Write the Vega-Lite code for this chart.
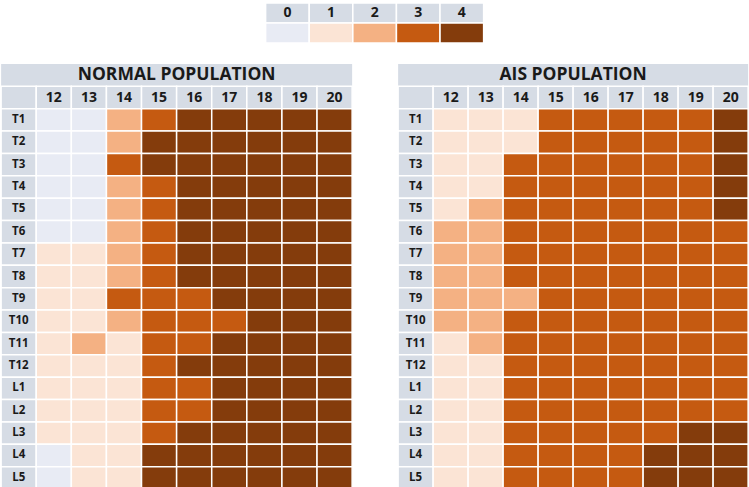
{
 "$schema": "https://vega.github.io/schema/vega-lite/v6.json",
 "padding": {"left": 0, "top": 2, "right": 0, "bottom": 0},
 "background": "white",
 "config": {"view": {"stroke": null}, "text": {"font": "Open Sans", "fontWeight": "bold", "color": "#1a1a1a"}},
 "datasets": {
  "cols": [{"c":"lab"},{"c":"12"},{"c":"13"},{"c":"14"},{"c":"15"},{"c":"16"},{"c":"17"},{"c":"18"},{"c":"19"},{"c":"20"}],
  "rows": [{"r":"T1"},{"r":"T2"},{"r":"T3"},{"r":"T4"},{"r":"T5"},{"r":"T6"},{"r":"T7"},{"r":"T8"},{"r":"T9"},{"r":"T10"},{"r":"T11"},{"r":"T12"},{"r":"L1"},{"r":"L2"},{"r":"L3"},{"r":"L4"},{"r":"L5"}],
  "legend": [{"k":0},{"k":1},{"k":2},{"k":3},{"k":4}],
  "normal": [
   {"r":"T1","c":"12","v":0},{"r":"T1","c":"13","v":0},{"r":"T1","c":"14","v":2},{"r":"T1","c":"15","v":3},{"r":"T1","c":"16","v":4},{"r":"T1","c":"17","v":4},{"r":"T1","c":"18","v":4},{"r":"T1","c":"19","v":4},{"r":"T1","c":"20","v":4},
   {"r":"T2","c":"12","v":0},{"r":"T2","c":"13","v":0},{"r":"T2","c":"14","v":2},{"r":"T2","c":"15","v":4},{"r":"T2","c":"16","v":4},{"r":"T2","c":"17","v":4},{"r":"T2","c":"18","v":4},{"r":"T2","c":"19","v":4},{"r":"T2","c":"20","v":4},
   {"r":"T3","c":"12","v":0},{"r":"T3","c":"13","v":0},{"r":"T3","c":"14","v":3},{"r":"T3","c":"15","v":4},{"r":"T3","c":"16","v":4},{"r":"T3","c":"17","v":4},{"r":"T3","c":"18","v":4},{"r":"T3","c":"19","v":4},{"r":"T3","c":"20","v":4},
   {"r":"T4","c":"12","v":0},{"r":"T4","c":"13","v":0},{"r":"T4","c":"14","v":2},{"r":"T4","c":"15","v":3},{"r":"T4","c":"16","v":4},{"r":"T4","c":"17","v":4},{"r":"T4","c":"18","v":4},{"r":"T4","c":"19","v":4},{"r":"T4","c":"20","v":4},
   {"r":"T5","c":"12","v":0},{"r":"T5","c":"13","v":0},{"r":"T5","c":"14","v":2},{"r":"T5","c":"15","v":3},{"r":"T5","c":"16","v":4},{"r":"T5","c":"17","v":4},{"r":"T5","c":"18","v":4},{"r":"T5","c":"19","v":4},{"r":"T5","c":"20","v":4},
   {"r":"T6","c":"12","v":0},{"r":"T6","c":"13","v":0},{"r":"T6","c":"14","v":2},{"r":"T6","c":"15","v":3},{"r":"T6","c":"16","v":4},{"r":"T6","c":"17","v":4},{"r":"T6","c":"18","v":4},{"r":"T6","c":"19","v":4},{"r":"T6","c":"20","v":4},
   {"r":"T7","c":"12","v":1},{"r":"T7","c":"13","v":1},{"r":"T7","c":"14","v":2},{"r":"T7","c":"15","v":3},{"r":"T7","c":"16","v":4},{"r":"T7","c":"17","v":4},{"r":"T7","c":"18","v":4},{"r":"T7","c":"19","v":4},{"r":"T7","c":"20","v":4},
   {"r":"T8","c":"12","v":1},{"r":"T8","c":"13","v":1},{"r":"T8","c":"14","v":2},{"r":"T8","c":"15","v":3},{"r":"T8","c":"16","v":4},{"r":"T8","c":"17","v":4},{"r":"T8","c":"18","v":4},{"r":"T8","c":"19","v":4},{"r":"T8","c":"20","v":4},
   {"r":"T9","c":"12","v":1},{"r":"T9","c":"13","v":1},{"r":"T9","c":"14","v":3},{"r":"T9","c":"15","v":3},{"r":"T9","c":"16","v":3},{"r":"T9","c":"17","v":4},{"r":"T9","c":"18","v":4},{"r":"T9","c":"19","v":4},{"r":"T9","c":"20","v":4},
   {"r":"T10","c":"12","v":1},{"r":"T10","c":"13","v":1},{"r":"T10","c":"14","v":2},{"r":"T10","c":"15","v":3},{"r":"T10","c":"16","v":3},{"r":"T10","c":"17","v":3},{"r":"T10","c":"18","v":4},{"r":"T10","c":"19","v":4},{"r":"T10","c":"20","v":4},
   {"r":"T11","c":"12","v":1},{"r":"T11","c":"13","v":2},{"r":"T11","c":"14","v":1},{"r":"T11","c":"15","v":3},{"r":"T11","c":"16","v":3},{"r":"T11","c":"17","v":4},{"r":"T11","c":"18","v":4},{"r":"T11","c":"19","v":4},{"r":"T11","c":"20","v":4},
   {"r":"T12","c":"12","v":1},{"r":"T12","c":"13","v":1},{"r":"T12","c":"14","v":1},{"r":"T12","c":"15","v":3},{"r":"T12","c":"16","v":4},{"r":"T12","c":"17","v":4},{"r":"T12","c":"18","v":4},{"r":"T12","c":"19","v":4},{"r":"T12","c":"20","v":4},
   {"r":"L1","c":"12","v":1},{"r":"L1","c":"13","v":1},{"r":"L1","c":"14","v":1},{"r":"L1","c":"15","v":3},{"r":"L1","c":"16","v":3},{"r":"L1","c":"17","v":4},{"r":"L1","c":"18","v":4},{"r":"L1","c":"19","v":4},{"r":"L1","c":"20","v":4},
   {"r":"L2","c":"12","v":1},{"r":"L2","c":"13","v":1},{"r":"L2","c":"14","v":1},{"r":"L2","c":"15","v":3},{"r":"L2","c":"16","v":3},{"r":"L2","c":"17","v":4},{"r":"L2","c":"18","v":4},{"r":"L2","c":"19","v":4},{"r":"L2","c":"20","v":4},
   {"r":"L3","c":"12","v":1},{"r":"L3","c":"13","v":1},{"r":"L3","c":"14","v":1},{"r":"L3","c":"15","v":3},{"r":"L3","c":"16","v":4},{"r":"L3","c":"17","v":4},{"r":"L3","c":"18","v":4},{"r":"L3","c":"19","v":4},{"r":"L3","c":"20","v":4},
   {"r":"L4","c":"12","v":0},{"r":"L4","c":"13","v":1},{"r":"L4","c":"14","v":1},{"r":"L4","c":"15","v":4},{"r":"L4","c":"16","v":4},{"r":"L4","c":"17","v":4},{"r":"L4","c":"18","v":4},{"r":"L4","c":"19","v":4},{"r":"L4","c":"20","v":4},
   {"r":"L5","c":"12","v":0},{"r":"L5","c":"13","v":1},{"r":"L5","c":"14","v":1},{"r":"L5","c":"15","v":4},{"r":"L5","c":"16","v":4},{"r":"L5","c":"17","v":4},{"r":"L5","c":"18","v":4},{"r":"L5","c":"19","v":4},{"r":"L5","c":"20","v":4}
  ],
  "ais": [
   {"r":"T1","c":"12","v":1},{"r":"T1","c":"13","v":1},{"r":"T1","c":"14","v":1},{"r":"T1","c":"15","v":3},{"r":"T1","c":"16","v":3},{"r":"T1","c":"17","v":3},{"r":"T1","c":"18","v":3},{"r":"T1","c":"19","v":3},{"r":"T1","c":"20","v":4},
   {"r":"T2","c":"12","v":1},{"r":"T2","c":"13","v":1},{"r":"T2","c":"14","v":1},{"r":"T2","c":"15","v":3},{"r":"T2","c":"16","v":3},{"r":"T2","c":"17","v":3},{"r":"T2","c":"18","v":3},{"r":"T2","c":"19","v":3},{"r":"T2","c":"20","v":4},
   {"r":"T3","c":"12","v":1},{"r":"T3","c":"13","v":1},{"r":"T3","c":"14","v":3},{"r":"T3","c":"15","v":3},{"r":"T3","c":"16","v":3},{"r":"T3","c":"17","v":3},{"r":"T3","c":"18","v":3},{"r":"T3","c":"19","v":3},{"r":"T3","c":"20","v":4},
   {"r":"T4","c":"12","v":1},{"r":"T4","c":"13","v":1},{"r":"T4","c":"14","v":3},{"r":"T4","c":"15","v":3},{"r":"T4","c":"16","v":3},{"r":"T4","c":"17","v":3},{"r":"T4","c":"18","v":3},{"r":"T4","c":"19","v":3},{"r":"T4","c":"20","v":4},
   {"r":"T5","c":"12","v":1},{"r":"T5","c":"13","v":2},{"r":"T5","c":"14","v":3},{"r":"T5","c":"15","v":3},{"r":"T5","c":"16","v":3},{"r":"T5","c":"17","v":3},{"r":"T5","c":"18","v":3},{"r":"T5","c":"19","v":3},{"r":"T5","c":"20","v":4},
   {"r":"T6","c":"12","v":2},{"r":"T6","c":"13","v":2},{"r":"T6","c":"14","v":3},{"r":"T6","c":"15","v":3},{"r":"T6","c":"16","v":3},{"r":"T6","c":"17","v":3},{"r":"T6","c":"18","v":3},{"r":"T6","c":"19","v":3},{"r":"T6","c":"20","v":3},
   {"r":"T7","c":"12","v":2},{"r":"T7","c":"13","v":2},{"r":"T7","c":"14","v":3},{"r":"T7","c":"15","v":3},{"r":"T7","c":"16","v":3},{"r":"T7","c":"17","v":3},{"r":"T7","c":"18","v":3},{"r":"T7","c":"19","v":3},{"r":"T7","c":"20","v":3},
   {"r":"T8","c":"12","v":2},{"r":"T8","c":"13","v":2},{"r":"T8","c":"14","v":3},{"r":"T8","c":"15","v":3},{"r":"T8","c":"16","v":3},{"r":"T8","c":"17","v":3},{"r":"T8","c":"18","v":3},{"r":"T8","c":"19","v":3},{"r":"T8","c":"20","v":3},
   {"r":"T9","c":"12","v":2},{"r":"T9","c":"13","v":2},{"r":"T9","c":"14","v":2},{"r":"T9","c":"15","v":3},{"r":"T9","c":"16","v":3},{"r":"T9","c":"17","v":3},{"r":"T9","c":"18","v":3},{"r":"T9","c":"19","v":3},{"r":"T9","c":"20","v":3},
   {"r":"T10","c":"12","v":2},{"r":"T10","c":"13","v":2},{"r":"T10","c":"14","v":3},{"r":"T10","c":"15","v":3},{"r":"T10","c":"16","v":3},{"r":"T10","c":"17","v":3},{"r":"T10","c":"18","v":3},{"r":"T10","c":"19","v":3},{"r":"T10","c":"20","v":3},
   {"r":"T11","c":"12","v":1},{"r":"T11","c":"13","v":2},{"r":"T11","c":"14","v":3},{"r":"T11","c":"15","v":3},{"r":"T11","c":"16","v":3},{"r":"T11","c":"17","v":3},{"r":"T11","c":"18","v":3},{"r":"T11","c":"19","v":3},{"r":"T11","c":"20","v":3},
   {"r":"T12","c":"12","v":1},{"r":"T12","c":"13","v":1},{"r":"T12","c":"14","v":3},{"r":"T12","c":"15","v":3},{"r":"T12","c":"16","v":3},{"r":"T12","c":"17","v":3},{"r":"T12","c":"18","v":3},{"r":"T12","c":"19","v":3},{"r":"T12","c":"20","v":3},
   {"r":"L1","c":"12","v":1},{"r":"L1","c":"13","v":1},{"r":"L1","c":"14","v":3},{"r":"L1","c":"15","v":3},{"r":"L1","c":"16","v":3},{"r":"L1","c":"17","v":3},{"r":"L1","c":"18","v":3},{"r":"L1","c":"19","v":3},{"r":"L1","c":"20","v":3},
   {"r":"L2","c":"12","v":1},{"r":"L2","c":"13","v":1},{"r":"L2","c":"14","v":3},{"r":"L2","c":"15","v":3},{"r":"L2","c":"16","v":3},{"r":"L2","c":"17","v":3},{"r":"L2","c":"18","v":3},{"r":"L2","c":"19","v":3},{"r":"L2","c":"20","v":3},
   {"r":"L3","c":"12","v":1},{"r":"L3","c":"13","v":1},{"r":"L3","c":"14","v":3},{"r":"L3","c":"15","v":3},{"r":"L3","c":"16","v":3},{"r":"L3","c":"17","v":3},{"r":"L3","c":"18","v":3},{"r":"L3","c":"19","v":4},{"r":"L3","c":"20","v":4},
   {"r":"L4","c":"12","v":1},{"r":"L4","c":"13","v":1},{"r":"L4","c":"14","v":3},{"r":"L4","c":"15","v":3},{"r":"L4","c":"16","v":3},{"r":"L4","c":"17","v":3},{"r":"L4","c":"18","v":4},{"r":"L4","c":"19","v":4},{"r":"L4","c":"20","v":4},
   {"r":"L5","c":"12","v":1},{"r":"L5","c":"13","v":1},{"r":"L5","c":"14","v":3},{"r":"L5","c":"15","v":3},{"r":"L5","c":"16","v":3},{"r":"L5","c":"17","v":3},{"r":"L5","c":"18","v":4},{"r":"L5","c":"19","v":4},{"r":"L5","c":"20","v":4}
  ]
 },
 "vconcat": [
  {
   "width": 218, "height": 40,
   "data": {"name": "legend"},
   "layer": [
    {"mark": {"type": "rect", "fill": "#D6DCE5", "stroke": "white", "strokeWidth": 1.5},
     "encoding": {"x": {"field": "k", "type": "ordinal", "scale": {"paddingInner": 0, "paddingOuter": 0}, "axis": null},
                  "y": {"datum": "h", "type": "nominal", "scale": {"domain": ["h", "c"], "paddingInner": 0, "paddingOuter": 0}, "axis": null}}},
    {"mark": {"type": "text", "fontSize": 14},
     "encoding": {"x": {"field": "k", "type": "ordinal", "axis": null},
                  "y": {"datum": "h", "type": "nominal", "axis": null},
                  "text": {"field": "k"}}},
    {"mark": {"type": "rect", "stroke": "white", "strokeWidth": 1.5},
     "encoding": {"x": {"field": "k", "type": "ordinal", "axis": null},
                  "y": {"datum": "c", "type": "nominal", "axis": null},
                  "color": {"field": "k", "type": "ordinal", "scale": {"domain": [0,1,2,3,4], "range": ["#E8EBF4", "#FBE4D5", "#F4B183", "#C55A11", "#843C0C"]}, "legend": null}}}
   ]
  },
  {
   "spacing": 44,
   "hconcat": [
    {
     "width": 351, "height": 425,
     "view": {"fill": "#D6DCE5", "stroke": null},
     "layer": [
      {"data": {"name": "cols"}, "mark": {"type": "rect", "fill": "#D6DCE5", "stroke": "white", "strokeWidth": 1.5},
       "encoding": {"x": {"field": "c", "type": "nominal", "scale": {"domain": ["lab","12","13","14","15","16","17","18","19","20"], "paddingInner": 0, "paddingOuter": 0}, "axis": null},
                    "y": {"datum": "head", "type": "nominal", "scale": {"domain": ["title","head","T1","T2","T3","T4","T5","T6","T7","T8","T9","T10","T11","T12","L1","L2","L3","L4","L5"], "paddingInner": 0, "paddingOuter": 0}, "axis": null}}},
      {"data": {"name": "cols"}, "transform": [{"filter": "datum.c != 'lab'"}], "mark": {"type": "text", "fontSize": 14},
       "encoding": {"x": {"field": "c", "type": "nominal", "axis": null}, "y": {"datum": "head", "type": "nominal", "axis": null}, "text": {"field": "c"}}},
      {"data": {"name": "rows"}, "mark": {"type": "rect", "fill": "#D6DCE5", "stroke": "white", "strokeWidth": 1.5},
       "encoding": {"x": {"datum": "lab", "type": "nominal", "axis": null}, "y": {"field": "r", "type": "nominal", "axis": null}}},
      {"data": {"name": "rows"}, "mark": {"type": "text", "fontSize": 11.5},
       "encoding": {"x": {"datum": "lab", "type": "nominal", "axis": null}, "y": {"field": "r", "type": "nominal", "axis": null}, "text": {"field": "r"}}},
      {"data": {"name": "normal"}, "mark": {"type": "rect", "stroke": "white", "strokeWidth": 1.5},
       "encoding": {"x": {"field": "c", "type": "nominal", "axis": null}, "y": {"field": "r", "type": "nominal", "axis": null},
                    "color": {"field": "v", "type": "ordinal", "scale": {"domain": [0,1,2,3,4], "range": ["#E8EBF4", "#FBE4D5", "#F4B183", "#C55A11", "#843C0C"]}, "legend": null}}},
      {"data": {"values": [{"t": "NORMAL POPULATION"}]}, "mark": {"type": "text", "fontSize": 17.5},
       "encoding": {"x": {"datum": "16", "type": "nominal", "bandPosition": 0, "axis": null}, "y": {"datum": "title", "type": "nominal", "axis": null}, "text": {"field": "t"}}}
     ]
    },
    {
     "width": 350, "height": 425,
     "view": {"fill": "#D6DCE5", "stroke": null},
     "layer": [
      {"data": {"name": "cols"}, "mark": {"type": "rect", "fill": "#D6DCE5", "stroke": "white", "strokeWidth": 1.5},
       "encoding": {"x": {"field": "c", "type": "nominal", "scale": {"domain": ["lab","12","13","14","15","16","17","18","19","20"], "paddingInner": 0, "paddingOuter": 0}, "axis": null},
                    "y": {"datum": "head", "type": "nominal", "scale": {"domain": ["title","head","T1","T2","T3","T4","T5","T6","T7","T8","T9","T10","T11","T12","L1","L2","L3","L4","L5"], "paddingInner": 0, "paddingOuter": 0}, "axis": null}}},
      {"data": {"name": "cols"}, "transform": [{"filter": "datum.c != 'lab'"}], "mark": {"type": "text", "fontSize": 14},
       "encoding": {"x": {"field": "c", "type": "nominal", "axis": null}, "y": {"datum": "head", "type": "nominal", "axis": null}, "text": {"field": "c"}}},
      {"data": {"name": "rows"}, "mark": {"type": "rect", "fill": "#D6DCE5", "stroke": "white", "strokeWidth": 1.5},
       "encoding": {"x": {"datum": "lab", "type": "nominal", "axis": null}, "y": {"field": "r", "type": "nominal", "axis": null}}},
      {"data": {"name": "rows"}, "mark": {"type": "text", "fontSize": 11.5},
       "encoding": {"x": {"datum": "lab", "type": "nominal", "axis": null}, "y": {"field": "r", "type": "nominal", "axis": null}, "text": {"field": "r"}}},
      {"data": {"name": "ais"}, "mark": {"type": "rect", "stroke": "white", "strokeWidth": 1.5},
       "encoding": {"x": {"field": "c", "type": "nominal", "axis": null}, "y": {"field": "r", "type": "nominal", "axis": null},
                    "color": {"field": "v", "type": "ordinal", "scale": {"domain": [0,1,2,3,4], "range": ["#E8EBF4", "#FBE4D5", "#F4B183", "#C55A11", "#843C0C"]}, "legend": null}}},
      {"data": {"values": [{"t": "AIS POPULATION"}]}, "mark": {"type": "text", "fontSize": 17.5},
       "encoding": {"x": {"datum": "16", "type": "nominal", "bandPosition": 0, "axis": null}, "y": {"datum": "title", "type": "nominal", "axis": null}, "text": {"field": "t"}}}
     ]
    }
   ]
  }
 ],
 "spacing": 20,
 "center": true
}
